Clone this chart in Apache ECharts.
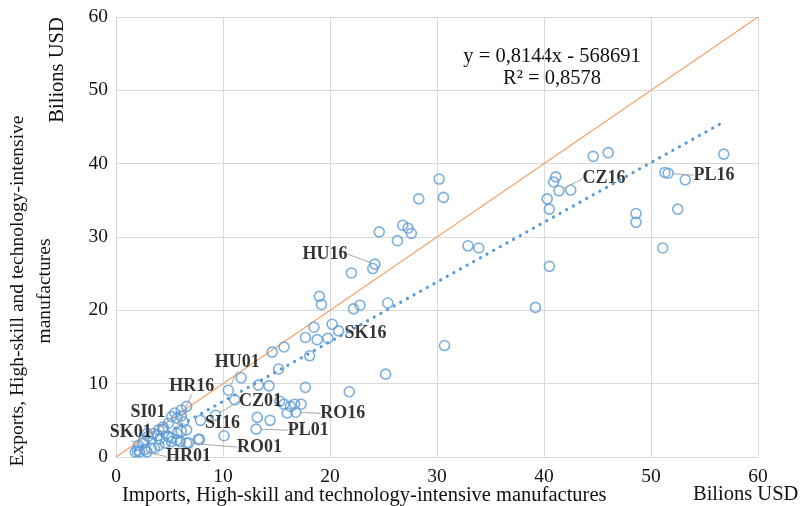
<!DOCTYPE html>
<html>
<head>
<meta charset="utf-8">
<script src="https://cdn.jsdelivr.net/npm/echarts@6/dist/echarts.min.js"></script>
<style>
  html, body { margin: 0; padding: 0; background: #fff; }
  #chart { width: 801px; height: 506px; }
</style>
</head>
<body>
<div id="chart"></div>
<script>
// imports (x) vs exports (y), billions USD
var points = [
  [46.0, 41.5], [44.6, 41.0], [56.8, 41.3], [51.3, 38.8], [53.2, 37.8],
  [48.6, 33.2], [48.6, 32.0], [52.5, 33.8], [51.1, 28.5],
  [41.1, 38.2], [40.9, 37.5], [42.5, 36.4], [40.3, 35.2], [40.5, 33.8],
  [40.5, 26.0], [39.2, 20.4],
  [30.2, 37.9], [30.6, 35.4], [28.3, 35.2], [32.9, 28.8], [33.9, 28.5],
  [30.7, 15.2], [25.2, 11.3],
  [24.6, 30.7], [26.8, 31.6], [27.3, 31.2], [27.6, 30.5], [26.3, 29.5],
  [24.0, 25.7], [22.0, 25.1], [19.0, 21.9], [19.2, 20.8], [22.2, 20.2],
  [22.8, 20.7], [25.4, 21.0],
  [18.5, 17.7], [20.2, 18.1], [17.7, 16.3], [18.8, 16.0], [19.8, 16.2],
  [15.7, 15.0], [14.6, 14.3], [18.1, 13.8], [15.2, 12.0], [11.7, 10.8],
  [13.3, 9.8], [14.3, 9.7], [17.7, 9.5], [21.8, 8.9],
  [11.1, 7.8], [15.3, 7.6], [15.7, 7.2], [16.3, 6.9], [16.7, 7.2],
  [17.3, 7.2], [16.0, 6.0], [13.2, 5.4], [14.4, 5.0], [10.1, 2.9],
  [7.8, 2.4],
  [6.6, 6.9], [6.1, 6.4], [5.5, 6.0], [5.2, 5.5], [5.7, 5.3], [6.1, 5.6],
  [6.3, 4.8], [4.9, 4.6], [4.4, 4.1], [4.0, 3.7], [3.5, 3.2], [3.0, 2.8],
  [2.6, 2.3], [2.1, 1.6], [1.8, 0.7], [2.2, 0.7], [2.7, 1.0], [3.3, 1.2],
  [4.0, 1.6], [4.6, 1.9], [5.2, 2.1], [6.0, 2.1], [6.8, 1.9], [7.7, 2.4],
  [4.1, 2.5], [4.9, 2.8], [5.7, 3.2], [6.6, 3.7], [6.1, 3.5], [3.9, 2.9],
  [4.4, 3.8], [2.9, 0.7], [3.6, 1.2], [5.7, 2.3]
];

var labelNames = ['PL16', 'CZ16', 'HU16', 'SK16', 'RO16', 'PL01', 'SI16',
  'CZ01', 'HU01', 'HR16', 'SI01', 'SK01', 'HR01', 'RO01'];
var labelX = [51.6, 41.4, 24.2, 20.8, 16.8, 13.1, 7.9, 9.3, 10.5, 5.2, 2.9, 2.5, 2.0, 6.6];
var labelY = [38.7, 36.3, 26.3, 17.2, 6.1, 3.8, 5.0, 5.7, 9.1, 2.6, 3.2, 1.9, 0.9, 1.9];

// trend line shown on the chart (y = 0,8144x - 568691, in thousands)
var slope = 0.8144;
var intercept = -0.568691;

var xTicks = [0, 10, 20, 30, 40, 50, 60];

// label offsets from their point, px
var labelOffsets = {
  PL16: [46, 2], CZ16: [45, -12], HU16: [-50, -10], SK16: [27, 2],
  RO16: [47, 1], PL01: [52, 1], SI16: [22, 3], CZ01: [45, -14],
  HU01: [9, -28], HR16: [20, -52], SI01: [1, -21], SK01: [-12, -11],
  HR01: [51, 6], RO01: [73, 4]
};

var labelled = labelNames.map(function (n, i) {
  return { name: n, value: [labelX[i], labelY[i]] };
});

var allX = points.map(function (p) { return p[0]; }).concat(labelX);
var xMin = Math.min.apply(null, allX);
var xMax = Math.max.apply(null, allX);
var trend = [[xMin, slope * xMin + intercept], [xMax, slope * xMax + intercept]];

var serif = "'Liberation Serif', 'Times New Roman', serif";
var blue = '#5B9BD5';

var myChart = echarts.init(document.getElementById('chart'));

var circleStyle = {
  color: 'rgba(0,0,0,0)',
  borderColor: blue,
  borderWidth: 1.6
};

function txt(s, size) {
  return { text: s, fontFamily: serif, fontSize: size || 20.5, fill: '#111',
    align: 'center', verticalAlign: 'middle' };
}

var option = {
  animation: false,
  textStyle: { fontFamily: serif },
  grid: { left: 116, right: 43, top: 17, bottom: 49 },
  xAxis: {
    type: 'value', min: xTicks[0], max: xTicks[xTicks.length - 1], interval: 10,
    axisLine: { show: true, lineStyle: { color: '#D9D9D9' } },
    axisTick: { show: false },
    splitLine: { lineStyle: { color: '#D9D9D9', width: 1 } },
    axisLabel: { margin: 10, color: '#111', fontFamily: serif, fontSize: 19.5 }
  },
  yAxis: {
    type: 'value', min: 0, max: 60, interval: 10,
    axisLine: { show: true, lineStyle: { color: '#D9D9D9' } },
    axisTick: { show: false },
    splitLine: { lineStyle: { color: '#D9D9D9', width: 1 } },
    axisLabel: { margin: 8, color: '#111', fontFamily: serif, fontSize: 19.5 }
  },
  series: [
    {
      name: 'diagonal', type: 'line', data: [[0, 0], [60, 60]],
      symbol: 'none', lineStyle: { color: '#F4A26B', width: 1.2 }, z: 1
    },
    {
      name: 'points', type: 'scatter', data: points,
      symbol: 'circle', symbolSize: 10, itemStyle: circleStyle, z: 2
    },
    {
      name: 'labelled', type: 'scatter', data: labelled,
      symbol: 'circle', symbolSize: 10, itemStyle: circleStyle, z: 3,
      label: {
        show: true, position: 'inside', formatter: '{b}',
        fontFamily: serif, fontWeight: 'bold', fontSize: 18, color: '#000',
        textBorderWidth: 0, textBorderColor: 'transparent'
      },
      labelLine: { show: true, lineStyle: { color: '#A6A6A6', width: 1 } },
      labelLayout: function (params) {
        var off = labelOffsets[labelNames[params.dataIndex]];
        return { dx: off[0], dy: off[1] };
      }
    },
    {
      name: 'trend', type: 'line', data: trend, symbol: 'none', z: 4,
      lineStyle: { color: blue, width: 3.2, type: [0.1, 7.5], cap: 'round' }
    }
  ],
  graphic: [
    { type: 'text', x: 552, y: 57, style: txt('y = 0,8144x - 568691') },
    { type: 'text', x: 552, y: 79, style: txt('R² = 0,8578') },
    {
      type: 'text', x: 122, y: 496,
      style: Object.assign(txt('Imports, High-skill and technology-intensive manufactures'),
        { align: 'left' })
    },
    {
      type: 'text', x: 693, y: 495,
      style: Object.assign(txt('Bilions USD'), { align: 'left' })
    },
    {
      type: 'text', x: 31, y: 291, rotation: Math.PI / 2,
      style: Object.assign(
        txt('Exports, High-skill and technology-intensive\nmanufactures', 19.5),
        { lineHeight: 27 })
    },
    { type: 'text', x: 58, y: 70, rotation: Math.PI / 2, style: txt('Bilions USD') }
  ]
};

myChart.setOption(option);
</script>
</body>
</html>
